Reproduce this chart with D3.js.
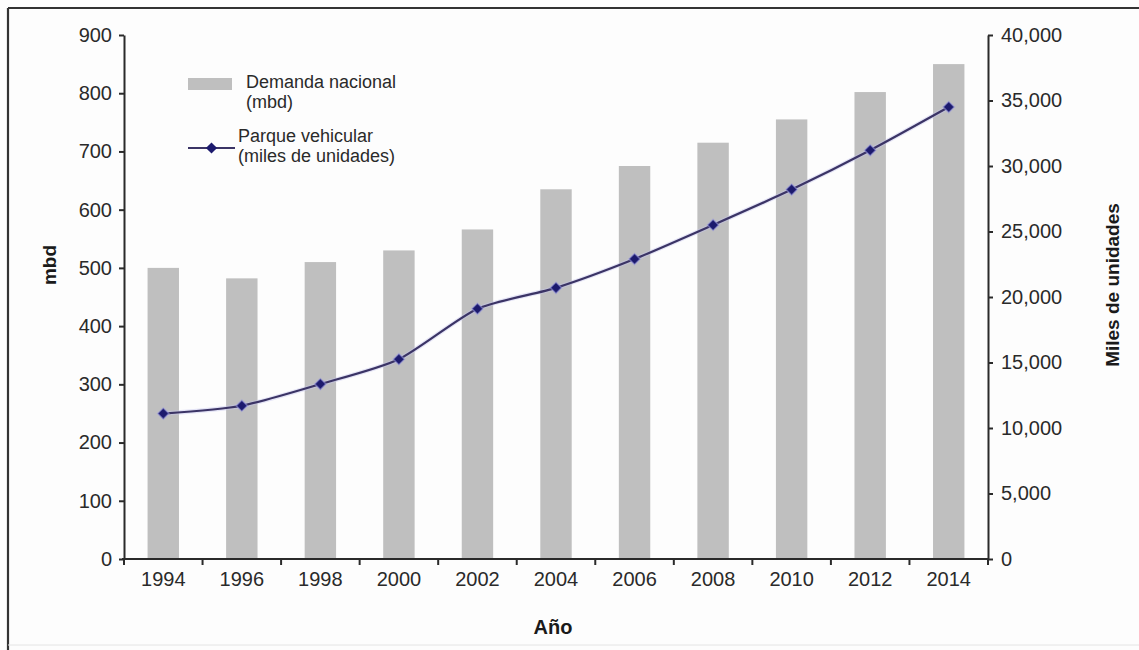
<!DOCTYPE html>
<html lang="es">
<head>
<meta charset="utf-8">
<title>Demanda nacional y parque vehicular</title>
<script src="https://cdn.jsdelivr.net/npm/d3@7"></script>
<style>
  html, body { margin: 0; padding: 0; background: #fdfdfd; }
  svg { display: block; font-family: "Liberation Sans", Arial, Helvetica, sans-serif; }
</style>
</head>
<body>
<svg id="chart" width="1139" height="650"></svg>
<script>
// Years on the category axis
const years = ["1994", "1996", "1998", "2000", "2002", "2004", "2006", "2008", "2010", "2012", "2014"];
// National demand (mbd), drawn as bars against the left axis
const demanda = [500, 482, 510, 530, 566, 635, 675, 715, 755, 802, 850];
// Vehicle fleet (thousands of units), drawn as a line against the right axis
const parque = [11100, 11700, 13350, 15250, 19100, 20700, 22900, 25500, 28200, 31200, 34500];
// Tick values of both vertical axes
const leftTicks = [0, 100, 200, 300, 400, 500, 600, 700, 800, 900];
const rightTicks = [0, 5000, 10000, 15000, 20000, 25000, 30000, 35000, 40000];

const svg = d3.select("#chart");
const W = 1139, H = 650;
const plot = { left: 124, right: 988, top: 35, bottom: 559 };
const ink = "#2a2a2a";

// Frame around the whole figure
svg.append("rect").attr("x", 0).attr("y", 0).attr("width", W).attr("height", H).attr("fill", "#fdfdfd");
svg.append("line").attr("x1", 8).attr("x2", W).attr("y1", 8).attr("y2", 8)
  .attr("stroke", "#333").attr("stroke-width", 2.2);
svg.append("line").attr("x1", 8).attr("x2", 8).attr("y1", 8).attr("y2", H)
  .attr("stroke", "#333").attr("stroke-width", 2.2);
svg.append("line").attr("x1", 8).attr("x2", W).attr("y1", 645).attr("y2", 645)
  .attr("stroke", "#e4e4e4").attr("stroke-width", 1);

// Scales
const x = d3.scaleBand().domain(years).range([plot.left, plot.right]).paddingInner(0.6).paddingOuter(0.3);
const xEdges = d3.scaleLinear().domain([0, years.length]).range([plot.left, plot.right]);
const yL = d3.scaleLinear().domain([0, 900]).range([plot.bottom, plot.top]);
const yR = d3.scaleLinear().domain([0, 40000]).range([plot.bottom, plot.top]);

// Bars: national demand
svg.append("g").selectAll("rect").data(years).join("rect")
  .attr("x", d => x(d))
  .attr("width", x.bandwidth())
  .attr("y", (d, i) => yL(demanda[i]))
  .attr("height", (d, i) => yL(0) - yL(demanda[i]))
  .attr("fill", "#bfbfbf");

// Line: vehicle fleet
const cx = d => x(d) + x.bandwidth() / 2;
const line = d3.line()
  .x((d, i) => cx(years[i]))
  .y(d => yR(d))
  .curve(d3.curveCardinal.tension(0.3));
svg.append("path").datum(parque)
  .attr("d", line)
  .attr("fill", "none")
  .attr("stroke", "#c6c6ee")
  .attr("stroke-width", 4.5)
  .attr("stroke-opacity", 0.45);
svg.append("path").datum(parque)
  .attr("d", line)
  .attr("fill", "none")
  .attr("stroke", "#3b3466")
  .attr("stroke-width", 2.2);

// Square markers turned 45 degrees
const marker = d3.symbol().type(d3.symbolSquare).size(62);
svg.append("g").selectAll("path").data(parque).join("path")
  .attr("d", marker)
  .attr("transform", (d, i) => `translate(${cx(years[i])},${yR(d)}) rotate(45)`)
  .attr("fill", "#1c1a6e")
  .attr("stroke", "#9a9ae0")
  .attr("stroke-opacity", 0.55)
  .attr("stroke-width", 1.5);

// Axes
function styleAxis(g) {
  g.selectAll(".domain").attr("stroke", ink).attr("stroke-width", 2);
  g.selectAll(".tick line").attr("stroke", ink).attr("stroke-width", 2);
  g.selectAll(".tick text").attr("fill", ink).attr("font-size", 20)
    .attr("font-family", "'Liberation Sans', Arial, Helvetica, sans-serif");
}

const gL = svg.append("g").attr("transform", `translate(${plot.left},0)`)
  .call(d3.axisLeft(yL).tickValues(leftTicks).tickSize(5).tickPadding(7).tickSizeOuter(0));
styleAxis(gL);

const gR = svg.append("g").attr("transform", `translate(${plot.right},0)`)
  .call(d3.axisRight(yR).tickValues(rightTicks).tickFormat(d3.format(",")).tickSize(5).tickPadding(8).tickSizeOuter(0));
styleAxis(gR);

// Category axis: ticks sit on the band boundaries, labels centred in each band
const gX = svg.append("g").attr("transform", `translate(0,${plot.bottom})`);
gX.append("line").attr("x1", plot.left - 2).attr("x2", plot.right + 1).attr("y1", 0).attr("y2", 0)
  .attr("stroke", ink).attr("stroke-width", 2);
gX.selectAll("line.edge").data(d3.range(years.length + 1)).join("line")
  .attr("class", "edge")
  .attr("x1", i => xEdges(i)).attr("x2", i => xEdges(i))
  .attr("y1", 0).attr("y2", 6)
  .attr("stroke", ink).attr("stroke-width", 2);
gX.selectAll("text").data(years).join("text")
  .attr("x", d => cx(d))
  .attr("y", 27)
  .attr("text-anchor", "middle")
  .attr("font-size", 20)
  .attr("fill", ink)
  .text(d => d);

// Axis titles
svg.append("text")
  .attr("transform", "translate(56,265) rotate(-90)")
  .attr("text-anchor", "middle")
  .attr("font-size", 19).attr("font-weight", "bold").attr("fill", "#1a1a1a")
  .text("mbd");
svg.append("text")
  .attr("transform", "translate(1119,285) rotate(-90)")
  .attr("text-anchor", "middle")
  .attr("font-size", 19).attr("font-weight", "bold").attr("fill", "#1a1a1a")
  .text("Miles de unidades");
svg.append("text")
  .attr("x", 553).attr("y", 634)
  .attr("text-anchor", "middle")
  .attr("font-size", 20).attr("font-weight", "bold").attr("fill", "#1a1a1a")
  .text("Año");

// Legend
const lg = svg.append("g");
lg.append("rect").attr("x", 188).attr("y", 78).attr("width", 44).attr("height", 12).attr("fill", "#bfbfbf");
lg.append("text").attr("x", 246).attr("y", 88).attr("font-size", 18).attr("fill", ink)
  .selectAll("tspan").data(["Demanda nacional", "(mbd)"]).join("tspan")
  .attr("x", 246).attr("dy", (d, i) => i ? 20 : 0).text(d => d);
lg.append("line").attr("x1", 188).attr("x2", 235).attr("y1", 148).attr("y2", 148)
  .attr("stroke", "#3b3466").attr("stroke-width", 2.2);
lg.append("path").attr("d", marker).attr("transform", "translate(211.5,148) rotate(45)")
  .attr("fill", "#1c1a6e");
lg.append("text").attr("x", 238).attr("y", 142).attr("font-size", 18).attr("fill", ink)
  .selectAll("tspan").data(["Parque vehicular", "(miles de unidades)"]).join("tspan")
  .attr("x", 238).attr("dy", (d, i) => i ? 20 : 0).text(d => d);
</script>
</body>
</html>
